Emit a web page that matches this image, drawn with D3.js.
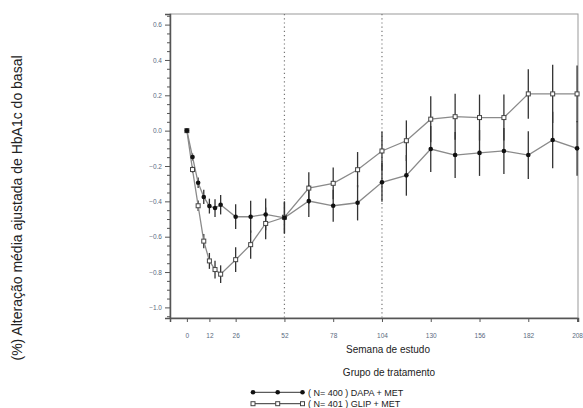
<!DOCTYPE html>
<html><head><meta charset="utf-8">
<script src="https://cdn.jsdelivr.net/npm/d3@7"></script>
<style>body{margin:0;background:#fff}svg{display:block}</style>
</head><body>
<svg id="c" width="583" height="408"></svg>
<script>
const weeks = [0,3,6,9,12,15,18,26,34,42,52,65,78,91,104,117,130,143,156,169,182,195,208];
const dapaMean = [0,-0.149,-0.295,-0.375,-0.427,-0.438,-0.419,-0.487,-0.487,-0.474,-0.493,-0.398,-0.425,-0.408,-0.292,-0.253,-0.104,-0.138,-0.126,-0.115,-0.138,-0.053,-0.100];
const dapaErr  = [0,0.02,0.03,0.04,0.042,0.05,0.055,0.07,0.09,0.09,0.09,0.09,0.09,0.10,0.11,0.115,0.13,0.13,0.13,0.13,0.135,0.16,0.155];
const glipMean = [0,-0.220,-0.425,-0.625,-0.737,-0.786,-0.812,-0.730,-0.645,-0.525,-0.490,-0.325,-0.298,-0.221,-0.115,-0.057,0.065,0.079,0.074,0.074,0.208,0.208,0.208];
const glipErr  = [0,0.02,0.03,0.04,0.045,0.05,0.05,0.07,0.08,0.09,0.09,0.09,0.09,0.10,0.11,0.115,0.13,0.13,0.13,0.13,0.14,0.165,0.16];
const xTicks = [0,12,26,52,78,104,130,156,182,208];
const yTicks = [-1.0,-0.8,-0.6,-0.4,-0.2,0.0,0.2,0.4,0.6];
const refWeeks = [52,104];
const legendLabels = ["( N= 400 ) DAPA + MET","( N= 401 ) GLIP + MET"];

const svg = d3.select("#c");
const x = d3.scaleLinear().domain([-9,208.5]).range([170,578]);
const y = d3.scaleLinear().domain([-1.06,0.66]).range([318,14]);
const axisCol = "#555";
const tickTxt = "#5a6a80";
const font = "Liberation Sans, Arial, sans-serif";

// frame
svg.append("rect").attr("x",170).attr("y",14).attr("width",408).attr("height",304)
  .attr("fill","none").attr("stroke","#999").attr("stroke-width",1);

// reference dotted lines
svg.selectAll("line.ref").data(refWeeks).join("line")
  .attr("x1",d=>x(d)).attr("x2",d=>x(d)).attr("y1",14).attr("y2",318)
  .attr("stroke","#777").attr("stroke-width",1.2).attr("stroke-dasharray","1.2,3");

// y axis
const yAxis = d3.axisLeft(y).tickValues(yTicks).tickFormat(d3.format(".1f")).tickSize(5).tickPadding(3);
const gy = svg.append("g").attr("transform","translate(170,0)").call(yAxis);
const minor = d3.range(-1.05,0.66,0.05).filter(v=>Math.abs(Math.round(v*5)-v*5)>0.01);
const gym = svg.append("g").attr("transform","translate(170,0)").call(d3.axisLeft(y).tickValues(minor).tickFormat("").tickSize(3));
gym.select(".domain").remove();
[gy,gym].forEach(g=>{g.selectAll("line").attr("stroke",axisCol);g.select(".domain").attr("stroke",axisCol).attr("stroke-width",1.5);});
gy.selectAll("text").attr("fill",tickTxt).style("font-family",font).style("font-size","6.5px");

// x axis
const gx = svg.append("g").attr("transform","translate(0,318)")
  .call(d3.axisBottom(x).tickValues(xTicks).tickSize(4).tickPadding(11));
gx.selectAll("line").attr("stroke",axisCol);
gx.select(".domain").attr("stroke",axisCol).attr("stroke-width",1.5);
gx.selectAll("text").attr("fill",tickTxt).style("font-family",font).style("font-size","6.5px");

const series = [
  {mean:dapaMean, err:dapaErr, type:"circle"},
  {mean:glipMean, err:glipErr, type:"square"}
];
const line = d3.line().x(d=>x(d[0])).y(d=>y(d[1]));

// error bars
series.forEach(s=>{
  svg.append("g").selectAll("line").data(weeks.map((w,i)=>[w,s.mean[i],s.err[i]]).filter(d=>d[2]>0)).join("line")
    .attr("x1",d=>x(d[0])).attr("x2",d=>x(d[0]))
    .attr("y1",d=>y(d[1]-d[2])).attr("y2",d=>y(d[1]+d[2]))
    .attr("stroke","#333").attr("stroke-width",1.3);
});
// lines
series.forEach(s=>{
  svg.append("path").datum(weeks.map((w,i)=>[w,s.mean[i]])).attr("d",line)
    .attr("fill","none").attr("stroke","#8a8a8a").attr("stroke-width",1.3);
});
// markers
function drawMarker(g,type,cx,cy){
  if(type==="circle") g.append("circle").attr("cx",cx).attr("cy",cy).attr("r",2.3).attr("fill","#111");
  else g.append("rect").attr("x",cx-2).attr("y",cy-2).attr("width",4).attr("height",4)
        .attr("fill","#fff").attr("stroke","#444").attr("stroke-width",1);
}
series.slice().reverse().forEach(s=>{
  const g = svg.append("g");
  weeks.forEach((w,i)=>drawMarker(g,s.type,x(w),y(s.mean[i])));
});

svg.append("text").attr("x",388).attr("y",353).attr("text-anchor","middle")
  .style("font-family",font).style("font-size","10px").attr("fill","#222").text("Semana de estudo");
svg.append("text").attr("x",389).attr("y",376).attr("text-anchor","middle")
  .style("font-family",font).style("font-size","10px").attr("fill","#222").text("Grupo de tratamento");

svg.append("text").attr("transform","translate(22,208) rotate(-90)").attr("text-anchor","middle")
  .style("font-family",font).style("font-size","14px").attr("fill","#222")
  .text("(%) Alteração média ajustada de HbA1c do basal");

// legend
legendLabels.forEach((lab,i)=>{
  const ly = 392.3 + i*11.4;
  const g = svg.append("g");
  g.append("line").attr("x1",253).attr("x2",302.5).attr("y1",ly).attr("y2",ly).attr("stroke","#333").attr("stroke-width",1);
  [253,277.7,302.5].forEach(px=>drawMarker(g,series[i].type,px,ly));
  g.append("text").attr("x",308).attr("y",ly+3.2).style("font-family",font).style("font-size","9px").attr("fill","#222").text(lab);
});
</script>
</body></html>
